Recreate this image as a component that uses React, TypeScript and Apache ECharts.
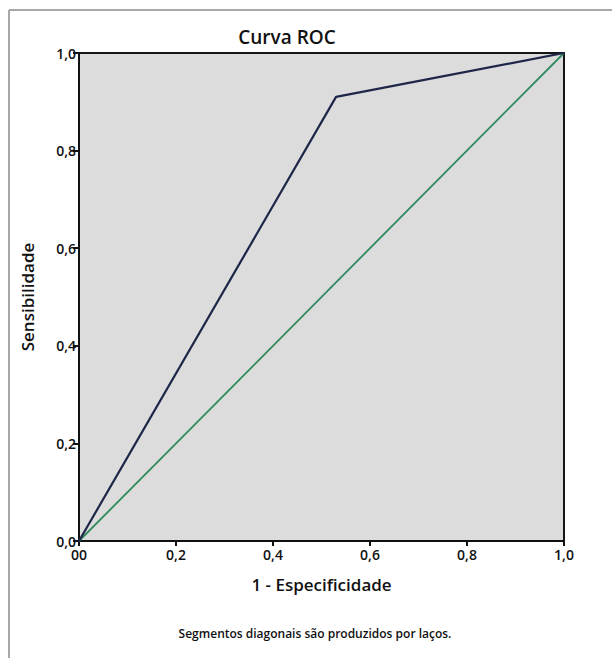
import React, { useEffect, useRef } from "react";
import * as echarts from "echarts";

const titleText = "Curva ROC";
const xAxisName = "1 - Especificidade";
const yAxisName = "Sensibilidade";
const footnote = "Segmentos diagonais são produzidos por laços.";

const rocFpr = [0, 0.53, 1];
const rocTpr = [0, 0.91, 1];
const refFpr = [0, 1];
const refTpr = [0, 1];

const FONT = "Open Sans";

const fmt = (v: number) => (v === 0 ? "0,0" : v.toFixed(1).replace(".", ","));
const fmtX = (v: number) => (v === 0 ? "00" : v.toFixed(1).replace(".", ","));

export default function App() {
  const ref = useRef<HTMLDivElement>(null);
  useEffect(() => {
    if (!ref.current) return;
    const chart = echarts.init(ref.current, null, { renderer: "svg" });
    chart.setOption({
      animation: false,
      backgroundColor: "#ffffff",
      textStyle: { fontFamily: FONT },
      grid: {
        left: 79,
        top: 53,
        width: 485,
        height: 488,
        show: true,
        backgroundColor: "#dcdcdc",
        borderColor: "#151515",
        borderWidth: 2,
      },
      xAxis: {
        type: "value",
        min: 0,
        max: 1,
        interval: 0.2,
        name: xAxisName,
        nameLocation: "middle",
        nameGap: 35,
        nameTextStyle: { fontFamily: FONT, fontSize: 17, fontWeight: 600, color: "#111" },
        axisLine: { show: true, lineStyle: { color: "#111", width: 2 } },
        axisTick: { show: true, length: 5, lineStyle: { color: "#111", width: 2 } },
        axisLabel: {
          formatter: fmtX,
          fontFamily: FONT,
          fontSize: 14,
          fontWeight: 600,
          color: "#111",
          margin: 6,
          lineHeight: 14,
        },
        splitLine: { show: false },
      },
      yAxis: {
        type: "value",
        min: 0,
        max: 1,
        interval: 0.2,
        name: yAxisName,
        nameLocation: "middle",
        nameGap: 43,
        nameTextStyle: { fontFamily: FONT, fontSize: 17, fontWeight: 600, color: "#111" },
        axisLine: { show: true, lineStyle: { color: "#111", width: 2 } },
        axisTick: { show: true, length: 6, lineStyle: { color: "#111", width: 2 } },
        axisLabel: {
          formatter: fmt,
          fontFamily: FONT,
          fontSize: 14,
          fontWeight: 600,
          color: "#111",
          margin: 3,
          lineHeight: 12,
        },
        splitLine: { show: false },
      },
      series: [
        {
          type: "line",
          data: refFpr.map((x, i) => [x, refTpr[i]]),
          symbol: "none",
          lineStyle: { color: "#2f8a5e", width: 1.8 },
          z: 3,
        },
        {
          type: "line",
          data: rocFpr.map((x, i) => [x, rocTpr[i]]),
          symbol: "none",
          lineStyle: { color: "#1d2647", width: 2.2 },
          z: 4,
        },
      ],
      graphic: [
        {
          type: "line",
          shape: { x1: 9, y1: 10, x2: 9, y2: 660 },
          style: { stroke: "#a8a8a8", lineWidth: 2 },
        },
        {
          type: "line",
          shape: { x1: 9, y1: 10, x2: 614, y2: 10 },
          style: { stroke: "#a8a8a8", lineWidth: 2 },
        },
        {
          type: "text",
          x: 287,
          y: 37,
          style: {
            text: titleText,
            fontFamily: FONT,
            fontSize: 19,
            fontWeight: 600,
            fill: "#111",
            align: "center",
            verticalAlign: "middle",
          },
        },
        {
          type: "text",
          x: 315,
          y: 633,
          style: {
            text: footnote,
            fontFamily: FONT,
            fontSize: 12,
            fontWeight: 600,
            fill: "#111",
            align: "center",
            verticalAlign: "middle",
          },
        },
      ],
    });
    return () => chart.dispose();
  }, []);
  return (
    <div
      ref={ref}
      style={{ position: "fixed", left: 0, top: 0, width: 612, height: 658 }}
    />
  );
}
